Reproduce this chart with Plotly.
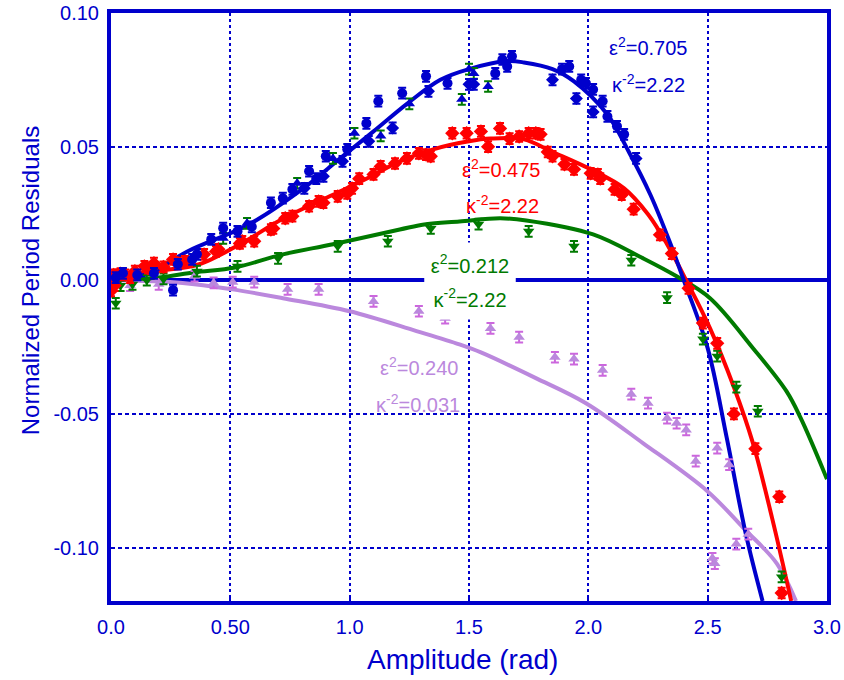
import plotly.graph_objects as go

# ---------------- data ----------------
# fitted curves
blue_fit_x = [0, 0.1, 0.18, 0.32, 0.58, 0.8, 0.96, 1.1, 1.24, 1.38, 1.5, 1.66, 1.73, 1.85, 1.94, 2.08, 2.17, 2.26, 2.34, 2.40, 2.50, 2.58, 2.66, 2.73]
blue_fit_y = [0, 0.001, 0.0034, 0.0108, 0.021, 0.034, 0.0456, 0.0557, 0.066, 0.075, 0.079, 0.082, 0.0815, 0.079, 0.0744, 0.062, 0.048, 0.032, 0.0146, 0, -0.0254, -0.059, -0.095, -0.12]

red_fit_x = [0, 0.1, 0.2, 0.37, 0.54, 0.72, 0.93, 1.07, 1.21, 1.35, 1.5, 1.59, 1.73, 1.85, 2.01, 2.15, 2.25, 2.33, 2.41, 2.51, 2.61, 2.69, 2.77, 2.85]
red_fit_y = [0, 0.002, 0.0035, 0.006, 0.0135, 0.023, 0.032, 0.038, 0.0445, 0.049, 0.052, 0.053, 0.0527, 0.048, 0.0415, 0.0344, 0.0247, 0.0135, 0, -0.018, -0.040, -0.061, -0.089, -0.12]

green_fit_x = [0, 0.2, 0.35, 0.52, 0.72, 0.93, 1.21, 1.32, 1.46, 1.63, 1.74, 2.02, 2.23, 2.37, 2.51, 2.69, 2.83, 2.89, 3.0]
green_fit_y = [0, 0.001, 0.003, 0.0048, 0.0097, 0.0135, 0.019, 0.021, 0.022, 0.0232, 0.0224, 0.0172, 0.0082, 0.0015, -0.0067, -0.0254, -0.0415, -0.0516, -0.0744]

lav_fit_x = [0, 0.3, 0.51, 0.72, 1.0, 1.28, 1.46, 1.55, 1.78, 1.99, 2.23, 2.50, 2.65, 2.79, 2.87]
lav_fit_y = [0, -0.001, -0.0034, -0.0067, -0.0116, -0.019, -0.024, -0.027, -0.0366, -0.046, -0.061, -0.079, -0.0927, -0.106, -0.12]

# measured points
blue_circ_x = [0.02, 0.05, 0.11, 0.18, 0.26, 0.28, 0.34, 0.36, 0.42, 0.47, 0.53, 0.59, 0.67, 0.72, 0.76, 0.83, 0.86, 0.90, 0.99, 1.07, 1.12, 1.22, 1.32, 1.41, 1.61, 1.64, 1.66, 1.68, 1.89, 1.92, 1.97, 1.99, 2.02, 2.06, 2.08, 2.12, 2.15]
blue_circ_y = [0.001, 0.0026, 0.002, 0.0026, -0.0037, 0.006, 0.0078, 0.0097, 0.0153, 0.0195, 0.0183, 0.020, 0.029, 0.0307, 0.034, 0.0408, 0.038, 0.0464, 0.049, 0.0587, 0.067, 0.070, 0.0763, 0.0737, 0.0774, 0.0826, 0.080, 0.0838, 0.079, 0.080, 0.075, 0.0737, 0.0714, 0.067, 0.0613, 0.0576, 0.0546]

blue_dia_x = [0.81, 0.89, 0.97, 1.08, 1.18, 1.33, 1.50, 1.52, 1.85, 1.95, 2.02, 2.20]
blue_dia_y = [0.0344, 0.0389, 0.0445, 0.052, 0.057, 0.0707, 0.0733, 0.0733, 0.075, 0.068, 0.063, 0.0456]

blue_tri_x = [0.47, 0.57, 0.78, 0.93, 1.02, 1.13, 1.25, 1.47, 1.50, 1.52, 1.58]
blue_tri_y = [0.0157, 0.0213, 0.0363, 0.0456, 0.055, 0.054, 0.066, 0.0677, 0.079, 0.0774, 0.0725]

red_x = [0.0, 0.005, 0.01, 0.015, 0.02, 0.03, 0.04, 0.06, 0.08, 0.10, 0.14, 0.155, 0.18, 0.22, 0.26, 0.28, 0.31, 0.39, 0.44, 0.45, 0.54, 0.55, 0.60, 0.67, 0.68, 0.73, 0.76, 0.83, 0.87, 0.89, 0.95, 0.99, 1.01, 1.04, 1.10, 1.13, 1.19, 1.24, 1.29, 1.32, 1.34, 1.43, 1.49, 1.55, 1.58, 1.63, 1.67, 1.71, 1.75, 1.78, 1.80, 1.83, 1.85, 1.90, 1.94, 2.01, 2.04, 2.05, 2.11, 2.14, 2.19, 2.30, 2.35, 2.42, 2.48, 2.54, 2.61, 2.70, 2.80, 2.81]
red_y = [-0.004, 0.0, 0.002, -0.002, 0.001, 0.002, 0.0025, 0.002, 0.001, 0.0034, 0.0052, 0.0045, 0.0064, 0.005, 0.0078, 0.0064, 0.0071, 0.0097, 0.0108, 0.0116, 0.0138, 0.0146, 0.0146, 0.019, 0.0194, 0.0232, 0.024, 0.0277, 0.0295, 0.029, 0.0314, 0.0325, 0.0344, 0.038, 0.0396, 0.0426, 0.0437, 0.0456, 0.0475, 0.047, 0.0464, 0.055, 0.055, 0.0557, 0.050, 0.0568, 0.053, 0.0538, 0.055, 0.055, 0.0546, 0.048, 0.0464, 0.0434, 0.0415, 0.040, 0.0396, 0.038, 0.034, 0.032, 0.0266, 0.017, 0.010, -0.003, -0.016, -0.0236, -0.050, -0.063, -0.081, -0.117]

green_x = [0.02, 0.04, 0.09, 0.15, 0.22, 0.36, 0.53, 0.70, 0.95, 1.16, 1.34, 1.54, 1.75, 1.94, 2.18, 2.33, 2.48, 2.54, 2.62, 2.71, 2.81]
green_y = [-0.0086, -0.002, -0.0015, 0.0, 0.0005, 0.0034, 0.0052, 0.0082, 0.0127, 0.0146, 0.0194, 0.021, 0.0183, 0.0127, 0.0075, -0.0065, -0.022, -0.0284, -0.040, -0.049, -0.111]

lav_x = [0.08, 0.20, 0.35, 0.43, 0.51, 0.60, 0.74, 0.87, 1.10, 1.29, 1.40, 1.59, 1.71, 1.86, 1.94, 2.06, 2.18, 2.25, 2.33, 2.37, 2.41, 2.45, 2.52, 2.53, 2.54, 2.59, 2.62, 2.67]
lav_y = [-0.002, -0.0015, 0.0015, -0.001, -0.0007, -0.0007, -0.0034, -0.0034, -0.0079, -0.0116, -0.0142, -0.018, -0.0213, -0.0288, -0.0295, -0.0337, -0.0426, -0.046, -0.0516, -0.0535, -0.056, -0.0677, -0.104, -0.106, -0.0628, -0.069, -0.0987, -0.095]

err = 0.002

x_tick_vals = [0, 0.5, 1.0, 1.5, 2.0, 2.5, 3.0]
x_tick_text = ["0.0", "0.50", "1.0", "1.5", "2.0", "2.5", "3.0"]
y_tick_vals = [0.10, 0.05, 0.0, -0.05, -0.10]
y_tick_text = ["0.10", "0.05", "0.00", "-0.05", "-0.10"]

x_title = "Amplitude (rad)"
y_title = "Normalized Period Residuals"

labels = [
    # text, x, y, color
    ("ε<sup>2</sup>=0.705", 2.25, 0.0875, "#0000CC"),
    ("κ<sup>-2</sup>=2.22", 2.254, 0.0737, "#0000CC"),
    ("ε<sup>2</sup>=0.475", 1.634, 0.0419, "#FF0000"),
    ("κ<sup>-2</sup>=2.22", 1.642, 0.0284, "#FF0000"),
    ("ε<sup>2</sup>=0.240", 1.29, -0.0322, "#BB88DD"),
    ("κ<sup>-2</sup>=0.031", 1.286, -0.046, "#BB88DD"),
]
green_labels = [
    ("ε<sup>2</sup>=0.212", 1.504, 0.006),
    ("κ<sup>-2</sup>=2.22", 1.504, -0.0067),
]

BLUE = "#0000CC"
RED = "#FF0000"
GREEN = "#007A00"
LAV = "#BB88DD"
LAV_ERR = "#CC66DD"
FONT = "Liberation Sans, Arial, sans-serif"

fig = go.Figure()

def eb(color):
    return dict(type="constant", value=err, color=color, thickness=2, width=4)

# fitted curves
fig.add_trace(go.Scatter(x=lav_fit_x, y=lav_fit_y, mode="lines", line=dict(color=LAV, width=4, shape="spline")))
fig.add_trace(go.Scatter(x=green_fit_x, y=green_fit_y, mode="lines", line=dict(color=GREEN, width=4, shape="spline")))
fig.add_trace(go.Scatter(x=red_fit_x, y=red_fit_y, mode="lines", line=dict(color=RED, width=4, shape="spline")))
fig.add_trace(go.Scatter(x=blue_fit_x, y=blue_fit_y, mode="lines", line=dict(color=BLUE, width=4, shape="spline")))

# data
fig.add_trace(go.Scatter(x=lav_x, y=lav_y, mode="markers",
                         marker=dict(symbol="triangle-up", size=10, color=LAV),
                         error_y=eb(LAV_ERR)))
fig.add_trace(go.Scatter(x=green_x, y=green_y, mode="markers",
                         marker=dict(symbol="triangle-down", size=10, color=GREEN),
                         error_y=eb(GREEN)))
fig.add_trace(go.Scatter(x=red_x, y=red_y, mode="markers",
                         marker=dict(symbol="diamond", size=11, color=RED),
                         error_y=eb(RED)))
fig.add_trace(go.Scatter(x=blue_tri_x, y=blue_tri_y, mode="markers",
                         marker=dict(symbol="triangle-up", size=10, color=BLUE),
                         error_y=eb(GREEN)))
fig.add_trace(go.Scatter(x=blue_dia_x, y=blue_dia_y, mode="markers",
                         marker=dict(symbol="diamond", size=10, color=BLUE),
                         error_y=eb(BLUE)))
fig.add_trace(go.Scatter(x=blue_circ_x, y=blue_circ_y, mode="markers",
                         marker=dict(symbol="circle", size=10, color=BLUE),
                         error_y=eb(BLUE)))

annotations = []
for t, x, y, c in labels:
    annotations.append(dict(x=x, y=y, text=t, showarrow=False,
                            font=dict(family=FONT, size=20, color=c)))
for t, x, y in green_labels:
    annotations.append(dict(x=x, y=y, text=t, showarrow=False, bgcolor="white",
                            width=88, height=40,
                            font=dict(family=FONT, size=20, color=GREEN)))
# axis titles
annotations.append(dict(xref="paper", yref="paper", x=0.4916, y=-0.1003,
                        xanchor="center", yanchor="middle", text=x_title, showarrow=False,
                        font=dict(family=FONT, size=28, color=BLUE)))
annotations.append(dict(xref="paper", yref="paper", x=-0.113, y=0.544,
                        xanchor="center", yanchor="middle", text=y_title, showarrow=False,
                        textangle=-90, font=dict(family=FONT, size=24, color=BLUE)))

fig.update_layout(
    width=844, height=680,
    margin=dict(l=111, r=17, t=13, b=79),
    plot_bgcolor="white", paper_bgcolor="white",
    showlegend=False,
    font=dict(family=FONT, color=BLUE),
    annotations=annotations,
    xaxis=dict(range=[0, 3.0], tickvals=x_tick_vals, ticktext=x_tick_text,
               automargin=False,
               showline=True, mirror=True, linewidth=4, linecolor=BLUE,
               showgrid=True, gridcolor=BLUE, gridwidth=2, griddash="dot",
               ticks="inside", ticklen=5, tickcolor=BLUE, tickwidth=2,
               ticklabelstandoff=5,
               zeroline=False,
               tickfont=dict(family=FONT, size=20, color=BLUE)),
    yaxis=dict(range=[-0.12, 0.10], tickvals=y_tick_vals, ticktext=y_tick_text,
               automargin=False,
               showline=True, mirror=True, linewidth=4, linecolor=BLUE,
               showgrid=True, gridcolor=BLUE, gridwidth=2, griddash="4px,3px",
               ticks="", ticklabelstandoff=4,
               zeroline=True, zerolinecolor=BLUE, zerolinewidth=4,
               tickfont=dict(family=FONT, size=20, color=BLUE)),
)

fig.write_html("out.html")
